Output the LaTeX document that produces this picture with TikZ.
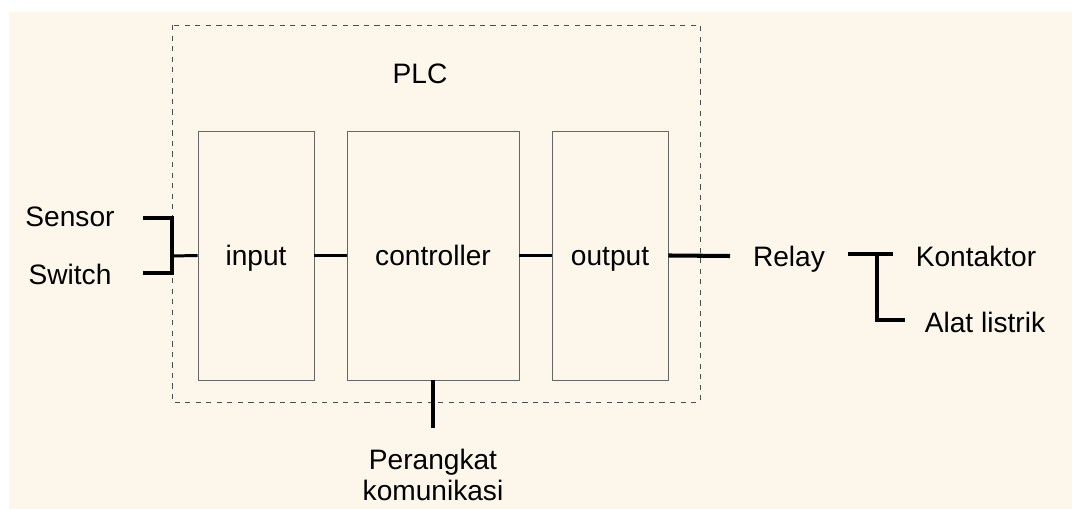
\documentclass[tikz,border=0pt]{standalone}
\usepackage{fontspec}
\setmainfont{Liberation Sans}
\definecolor{paper}{RGB}{253,247,235}
\begin{document}
\begin{tikzpicture}[x=0.02cm, y=-0.02cm]
	\tikzstyle{block} = [ draw=black!60, line width=0.5pt, minimum height=4.98cm, inner sep=0pt, text height=11.5pt, text depth=0pt, font={\fontsize{16}{19}\selectfont} ];
	\tikzstyle{label} = [ inner sep=0pt, text height=11.5pt, text depth=0pt, font={\fontsize{16}{19}\selectfont} ];
	\tikzstyle{note} = [ inner sep=0pt, font={\fontsize{16}{17.5}\selectfont}, align=center ];
	\tikzstyle{link} = [ line width=1.7pt ];
	\tikzstyle{bus} = [ line width=2.3pt ];

	\useasboundingbox (0,0) rectangle (1072,509);
	\fill[paper] (9,12) rectangle (1072,509);

	% PLC frame
	\draw[black!70, dashed, line width=0.5pt] (172,25) rectangle (700,402);
	\node[label] (plc) at (420,73) {PLC};

	\foreach \name/\x/\w in {input/256/2.32cm, controller/433/3.44cm, output/610/2.32cm} {
		\node[block, minimum width=\w] (\name) at (\x,255.5) {\name};
	}

	\draw[link] (input.east) -- (controller.west);
	\draw[link] (controller.east) -- (output.west);

	% inputs
	\node[label] (sensor) at (70,216) {Sensor};
	\node[label] (switch) at (70,274) {Switch};
	\coordinate (s1) at (143,218);
	\coordinate (s2) at (143,273);
	\coordinate (join) at (172,256);
	\draw[bus] (s1) -| (join) |- (s2);
	\draw[link] (join) -- (input.west);

	% outputs
	\node[label] (relay) at (789,256) {Relay};
	\node[label] (kontaktor) at (976,256) {Kontaktor};
	\node[label] (alat) at (985,322) {Alat listrik};
	\coordinate (r1) at (730,256);
	\draw[bus] (output.east) -- (r1);
	\coordinate (k1) at (848,254);
	\coordinate (k2) at (893,254);
	\coordinate (k3) at (877,254);
	\coordinate (a1) at (905,320);
	\draw[bus] (k1) -- (k2);
	\draw[bus] (k3) |- (a1);

	% communication
	\node[note] (kom) at (433,475) {Perangkat\\komunikasi};
	\coordinate (c1) at (433,428);
	\draw[bus] (controller.south) -- (c1);
\end{tikzpicture}
\end{document}
